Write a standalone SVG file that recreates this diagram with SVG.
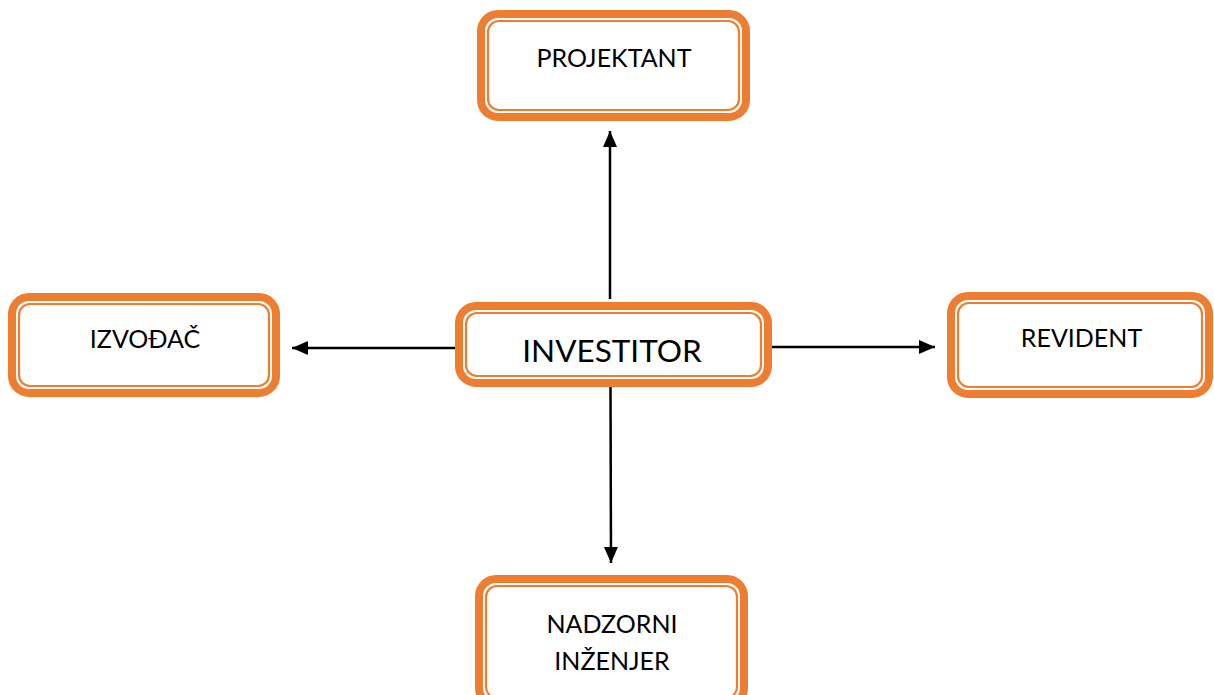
<svg xmlns="http://www.w3.org/2000/svg" width="1214" height="695" viewBox="0 0 1214 695">
<defs>
<style>
.outer{fill:#ffffff;stroke:#ED7D31;stroke-width:8}
.inner{fill:none;stroke:#ED7D31;stroke-width:2.2}
.lbl{font-family:"Lato","Liberation Sans",sans-serif;font-size:25px;fill:#000000;text-anchor:middle}
.big{font-size:31.5px}
.conn{stroke:#000000;stroke-width:2.5;fill:none}
</style>
<marker id="arr" viewBox="0 0 16 14" refX="16" refY="7" markerWidth="16" markerHeight="14" markerUnits="userSpaceOnUse" orient="auto">
<path d="M0,0 L16,7 L0,14 z" fill="#000000"/>
</marker>
</defs>
<rect width="1214" height="695" fill="#ffffff"/>
<g id="connectors">
<line class="conn" x1="610" y1="299" x2="610" y2="131" marker-end="url(#arr)"/>
<line class="conn" x1="610.5" y1="387" x2="611" y2="563" marker-end="url(#arr)"/>
<line class="conn" x1="458" y1="348" x2="292" y2="348" marker-end="url(#arr)"/>
<line class="conn" x1="772" y1="347" x2="935" y2="347" marker-end="url(#arr)"/>
</g>
<g id="projektant">
<rect class="outer" x="481" y="14" width="265" height="103" rx="17"/>
<rect class="inner" x="488" y="21" width="251" height="89" rx="11"/>
<text class="lbl" x="614" y="66.5">PROJEKTANT</text>
</g>
<g id="investitor">
<rect class="outer" x="459" y="306" width="309" height="77" rx="17"/>
<rect class="inner" x="466" y="313" width="295" height="63" rx="11"/>
<text class="lbl big" x="612" y="362">INVESTITOR</text>
</g>
<g id="izvodjac">
<rect class="outer" x="12" y="297" width="264" height="96" rx="17"/>
<rect class="inner" x="19" y="304" width="250" height="82" rx="11"/>
<text class="lbl" x="145" y="348">IZVOĐAČ</text>
</g>
<g id="revident">
<rect class="outer" x="951" y="296" width="258" height="98" rx="17"/>
<rect class="inner" x="958" y="303" width="244" height="84" rx="11"/>
<text class="lbl" x="1081.5" y="346.5">REVIDENT</text>
</g>
<g id="nadzorni">
<rect class="outer" x="479" y="579" width="265" height="126" rx="17"/>
<rect class="inner" x="486" y="586" width="251" height="112" rx="11"/>
<text class="lbl" x="612" y="633">NADZORNI</text>
<text class="lbl" x="612" y="670">INŽENJER</text>
</g>
</svg>
